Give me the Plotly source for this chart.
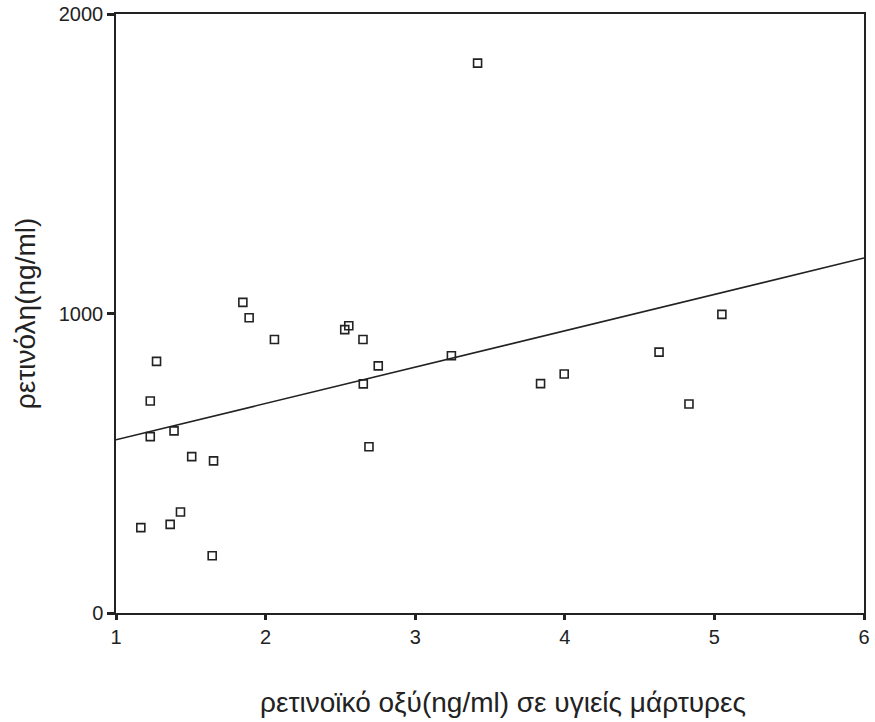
import plotly.graph_objects as go

retinoic_acid = [1.166, 1.229, 1.229, 1.271, 1.362, 1.388, 1.431, 1.506, 1.643, 1.652,
                 1.848, 1.890, 2.059, 2.529, 2.556, 2.651, 2.653, 2.691, 2.753, 3.242,
                 3.417, 3.838, 3.996, 4.630, 4.830, 5.050]
retinol = [285, 589, 708, 840, 296, 608, 337, 522, 191, 508,
           1037, 986, 913, 946, 959, 913, 765, 555, 825, 859,
           1836, 766, 798, 871, 698, 997]

fit_x = [1, 6]
fit_y = [578, 1185]

x_ticks = [1, 2, 3, 4, 5, 6]
y_ticks = [0, 1000, 2000]

font_family = "Liberation Sans, Arial, sans-serif"
ink = "#222222"

fig = go.Figure()
fig.add_trace(go.Scatter(x=fit_x, y=fit_y, mode="lines",
                         line=dict(color=ink, width=1.5), showlegend=False,
                         hoverinfo="skip"))
fig.add_trace(go.Scatter(x=retinoic_acid, y=retinol, mode="markers",
                         marker=dict(symbol="square-open", size=8, color=ink,
                                     line=dict(color=ink, width=1.6)),
                         showlegend=False))

fig.update_layout(
    width=875, height=722,
    margin=dict(l=116, r=11, t=14, b=109),
    paper_bgcolor="white", plot_bgcolor="white",
    font=dict(family=font_family, color=ink, size=20),
    xaxis=dict(range=[1, 6], tickvals=x_ticks, ticktext=[str(v) for v in x_ticks],
               showgrid=False, zeroline=False, showline=True, linecolor=ink,
               linewidth=1.5, mirror=True, ticks="outside", ticklen=5,
               tickwidth=3, tickcolor=ink, tickfont=dict(size=20), automargin=False),
    yaxis=dict(range=[0, 2000], tickvals=y_ticks, ticktext=[str(v) for v in y_ticks],
               showgrid=False, zeroline=False, showline=True, linecolor=ink,
               linewidth=1.5, mirror=True, ticks="outside", ticklen=7,
               tickwidth=3, tickcolor=ink, tickfont=dict(size=20), automargin=False),
    annotations=[
        dict(text="ρετινοϊκό οξύ(ng/ml) σε υγιείς μάρτυρες", xref="paper", yref="paper",
             x=0.517, y=-0.1486, xanchor="center", yanchor="middle", showarrow=False,
             font=dict(size=28, family=font_family, color=ink)),
        dict(text="ρετινόλη(ng/ml)", xref="paper", yref="paper",
             x=-0.1208, y=0.5, xanchor="center", yanchor="middle", showarrow=False,
             textangle=-90, font=dict(size=28, family=font_family, color=ink)),
    ],
)

fig.write_html("out.html")
